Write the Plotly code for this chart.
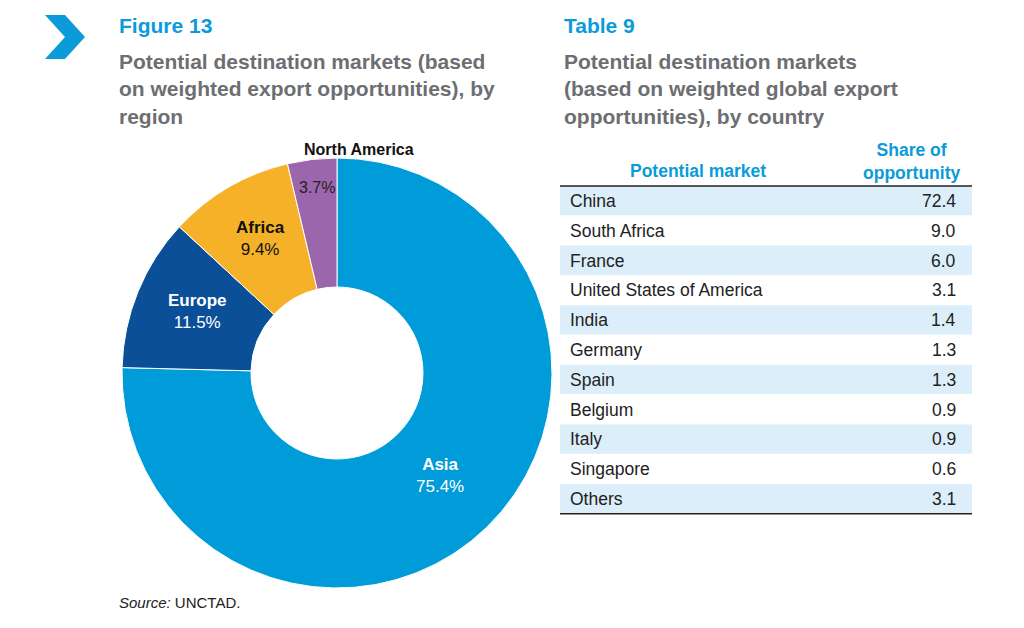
import math
import plotly.graph_objects as go

regions = ["Asia", "Europe", "Africa", "North America"]
region_share = [75.4, 11.5, 9.4, 3.7]
region_colors = ["#009bd9", "#0b4f98", "#f5b228", "#9b66ac"]

countries = ["China", "South Africa", "France", "United States of America", "India",
             "Germany", "Spain", "Belgium", "Italy", "Singapore", "Others"]
country_share = [72.4, 9.0, 6.0, 3.1, 1.4, 1.3, 1.3, 0.9, 0.9, 0.6, 3.1]

W, H = 1024, 628
OFF = 8
def px(x): return (x - OFF) / W
def py(y): return 1 - (y - OFF) / H

cx, cy, R, r_in = 337, 373, 215, 86
BLUE = "#0a9bd8"; GRAY = "#6d6e71"
FONT = "Liberation Sans"

fig = go.Figure()
fig.add_trace(go.Pie(
    values=region_share, labels=regions, marker=dict(colors=region_colors, line=dict(color="white", width=1)),
    hole=r_in / R, sort=False, direction="clockwise", rotation=0, textinfo="none",
    hoverinfo="label+percent", showlegend=False,
    domain=dict(x=[px(cx - R), px(cx + R)], y=[py(cy + R), py(cy - R)])))

ann = []
total = sum(region_share)
cum = 0
label_nudge = {"Asia": (-2, 18), "Europe": (-32, -5), "Africa": (-27, -5), "North America": (-18, -7)}
for name, v in zip(regions, region_share):
    mid = (cum + v / 2) / total * 2 * math.pi
    cum += v
    rr = 190 if name == "North America" else 150
    dx, dy = label_nudge[name]
    x = cx + rr * math.sin(mid) + dx; y = cy - rr * math.cos(mid) + dy
    if name == "North America":
        ann.append(dict(x=px(x), y=py(y), text=f"{v:.1f}%", font=dict(size=16, color="#222")))
        ann.append(dict(x=px(x + 5), y=py(y - 38), text="<b>North America</b>", font=dict(size=16, color="#111")))
    else:
        col = "#111" if name == "Africa" else "white"
        ann.append(dict(x=px(x), y=py(y), text=f"<b>{name}</b><br>{v:.1f}%",
                        font=dict(size=17, color=col)))

def txt(x, y, s, size, color, xa="left", ya="middle"):
    ann.append(dict(x=px(x), y=py(y), text=s, font=dict(size=size, color=color),
                    xanchor=xa, yanchor=ya, align="left" if xa == "left" else "center"))

txt(117, 25, "<b>Figure 13</b>", 21, BLUE)
txt(117, 89, "<b>Potential destination markets (based<br>on weighted export opportunities), by<br>region</b>", 21, GRAY)
txt(562, 25, "<b>Table 9</b>", 21, BLUE)
txt(562, 89, "<b>Potential destination markets<br>(based on weighted global export<br>opportunities), by country</b>", 21, GRAY)
txt(117, 602, "<i>Source:</i> UNCTAD.", 15, "#222")
txt(698, 171, "<b>Potential market</b>", 17.5, BLUE, xa="center")
txt(911, 161, "<b>Share of<br>opportunity</b>", 17.5, BLUE, xa="center")

shapes = [dict(type="path", path=f"M {px(45)} {py(15)} L {px(65)} {py(15)} L {px(85)} {py(37)} L {px(65)} {py(59)} L {px(45)} {py(59)} L {px(65)} {py(37)} Z",
               xref="paper", yref="paper", fillcolor="#0a9bd8", line=dict(width=0))]
x0, x1, top, rh = 560, 972, 186, 29.8
for i, (c, v) in enumerate(zip(countries, country_share)):
    ytop = top + i * rh
    if i % 2 == 0:
        shapes.append(dict(type="rect", xref="paper", yref="paper", x0=px(x0), x1=px(x1),
                           y0=py(ytop + rh), y1=py(ytop), fillcolor="#dceef9", line=dict(width=0)))
    last = i == len(countries) - 1
    shapes.append(dict(type="line", xref="paper", yref="paper", x0=px(x0), x1=px(x1),
                       y0=py(ytop + rh), y1=py(ytop + rh), line=dict(color="#222" if last else "#ffffff", width=1.5 if last else 1)))
    txt(568, ytop + rh / 2, c, 17.5, "#222")
    txt(958, ytop + rh / 2, f"{v:.1f}", 17.5, "#222", xa="right")
shapes.append(dict(type="line", xref="paper", yref="paper", x0=px(x0), x1=px(x1),
                   y0=py(top), y1=py(top), line=dict(color="#222", width=1.5)))

for a in ann:
    a.setdefault("showarrow", False); a["xref"] = "paper"; a["yref"] = "paper"
fig.update_layout(width=W, height=H, margin=dict(l=0, r=0, t=0, b=0),
                  paper_bgcolor="white", plot_bgcolor="white",
                  font=dict(family=FONT), annotations=ann, shapes=shapes)
fig.write_html("out.html")
